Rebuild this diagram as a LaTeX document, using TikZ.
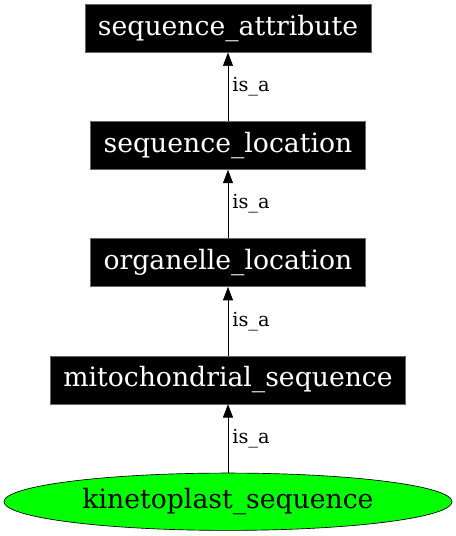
\documentclass[tikz,border=0pt]{standalone}
\usepackage{fontspec}
\setmainfont{DejaVu Serif}
\usetikzlibrary{arrows.meta,positioning,shapes.geometric}

\begin{document}
\begin{tikzpicture}[->,>={Triangle[length=10pt,width=7.5pt]},auto=right,node distance=51.4pt,line width=0.5pt,
    term/.style={rectangle,fill=black,draw=black!60,text=white,font=\fontsize{20}{24}\selectfont,minimum height=36pt,inner xsep=9.75pt},
    leaf/.style={ellipse,fill=green,draw=black,font=\fontsize{20}{24}\selectfont,inner sep=0pt,minimum height=43pt,minimum width=336pt},
    rel/.style={font=\fontsize{14.5}{16}\selectfont,inner sep=3pt}]
  \useasboundingbox (0,0) rectangle (342pt,402pt);
  \node[leaf]				(kin)			at (171pt,25.7pt) 	{kinetoplast\_sequence};
  \node[term]				(mito) [above=of kin] 		{mitochondrial\_sequence};
  \node[term]				(orgloc) [above=of mito] 		{organelle\_location};
  \node[term]				(seqloc) [above=of orgloc] 	{sequence\_location};
  \node[term]				(seqattr) [above=of seqloc] 	{sequence\_attribute};

  \path 	(kin) edge node[rel] 	{is\_a} 	(mito)
	(mito) edge node[rel] 	{is\_a} 	(orgloc)
	(orgloc) edge node[rel] 	{is\_a} 	(seqloc)
	(seqloc) edge node[rel] 	{is\_a} 	(seqattr);
\end{tikzpicture}
\end{document}
